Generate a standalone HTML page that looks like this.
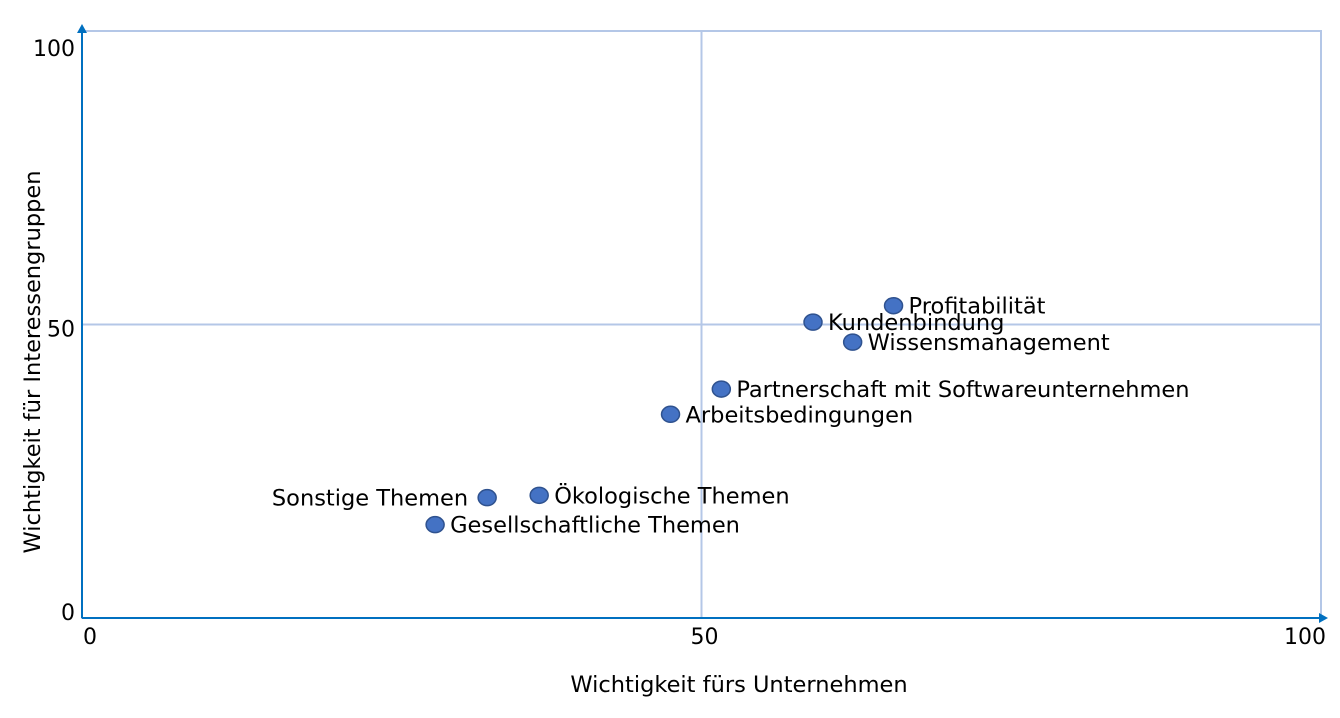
<!DOCTYPE html>
<html><head><meta charset="utf-8"><style>
body{margin:0;background:#fff;}
svg text{font-family:"DejaVu Sans","Liberation Sans",sans-serif;fill:#000;}
</style></head><body>
<svg width="1340" height="713">
<g id="grid"></g>
<g id="axes"></g>
<g id="pts"></g>
<text x="739" y="692" font-size="22.5" text-anchor="middle">Wichtigkeit fürs Unternehmen</text>
<text transform="translate(40,362) rotate(-90)" font-size="22.5" text-anchor="middle">Wichtigkeit für Interessengruppen</text>
</svg>
<script>
const labels=["Profitabilität","Kundenbindung","Wissensmanagement","Partnerschaft mit Softwareunternehmen","Arbeitsbedingungen","Ökologische Themen","Sonstige Themen","Gesellschaftliche Themen"];
const xVals=[65.5,59.0,62.2,51.6,47.5,36.9,32.7,28.5];
const yVals=[53.2,50.4,47.0,39.0,34.7,20.9,20.5,15.9];
const labelSide=["r","r","r","r","r","r","l","r"];
const xTicks=[0,50,100];
const yTicks=[0,50,100];
const X0=82,X1=1321,Y0=618,Y1=31;
const sx=v=>X0+(X1-X0)*v/100, sy=v=>Y0-(Y0-Y1)*v/100;
const NS="http://www.w3.org/2000/svg";
function mk(t,a,p){const e=document.createElementNS(NS,t);for(const k in a)e.setAttribute(k,a[k]);p.appendChild(e);return e;}
const g=document.getElementById('grid'),ax=document.getElementById('axes'),pts=document.getElementById('pts');
let r=mk('rect',{x:X0,y:Y1,width:X1-X0,height:Y0-Y1,fill:'none',stroke:'#b4c7e7','stroke-width':2},g);

let l=mk('line',{x1:sx(50),x2:sx(50),y1:Y1,y2:Y0,stroke:'#b4c7e7','stroke-width':2},g);

l=mk('line',{x1:X0,x2:X1,y1:sy(50),y2:sy(50),stroke:'#b4c7e7','stroke-width':2},g);

l=mk('line',{x1:X0,x2:X0,y1:Y0,y2:Y1-2,stroke:'#0070c0','stroke-width':2},ax);

let p=mk('polygon',{points:`${X0-5},${Y1+2} ${X0+5},${Y1+2} ${X0},${Y1-7}`,fill:'#0070c0'},ax);

l=mk('line',{x1:X0,x2:X1+2,y1:Y0,y2:Y0,stroke:'#0070c0','stroke-width':2},ax);

p=mk('polygon',{points:`${X1-2},${Y0-5} ${X1-2},${Y0+5} ${X1+7},${Y0}`,fill:'#0070c0'},ax);

const xOff=[8,3,-16];
xTicks.forEach((v,i)=>{const t=mk('text',{x:sx(v)+xOff[i],y:Y0+26,'font-size':22,'text-anchor':'middle'},ax);t.textContent=v;
});
const yOff=[-6,4,17];
yTicks.forEach((v,i)=>{const t=mk('text',{x:X0-7,y:sy(v)+yOff[i]+8,'font-size':22,'text-anchor':'end'},ax);t.textContent=v;
});
labels.forEach((n,i)=>{const cx=sx(xVals[i]),cy=sy(yVals[i]);
const c=mk('ellipse',{cx:cx,cy:cy,rx:9,ry:8,fill:'#4472c4',stroke:'#2f528f','stroke-width':1.5},pts);

const left=labelSide[i]==='l';
const t=mk('text',{x:left?cx-19:cx+15,y:cy+8,'font-size':22.5,'text-anchor':left?'end':'start'},pts);t.textContent=n;
});
</script>
</body></html>
